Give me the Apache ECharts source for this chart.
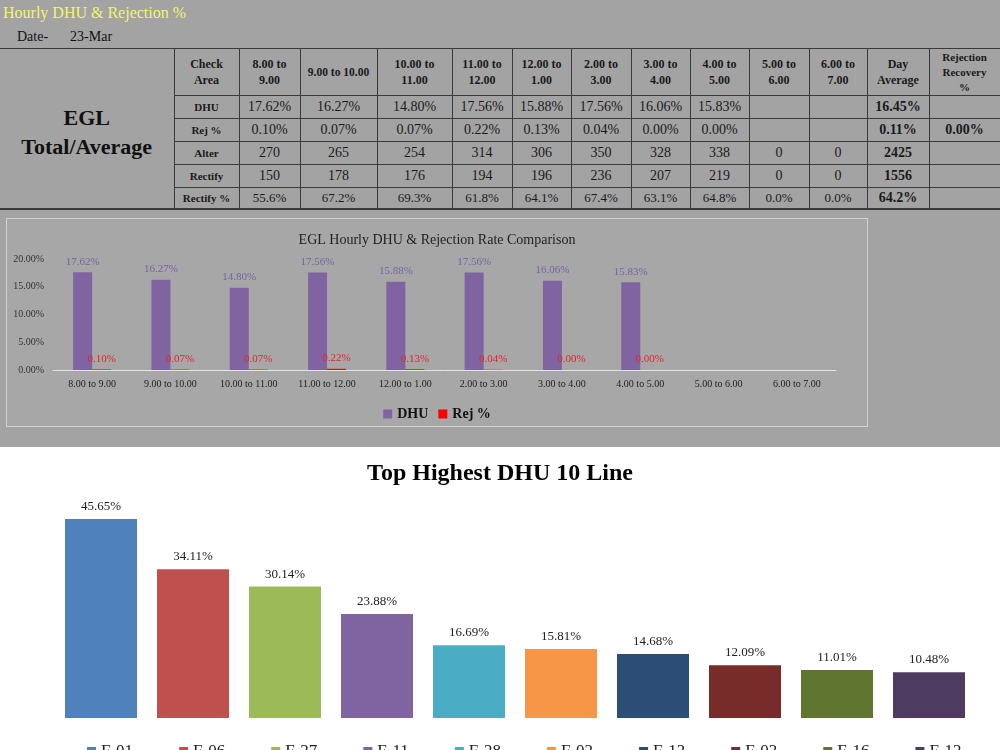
<!DOCTYPE html>
<html>
<head>
<meta charset="utf-8">
<script src="https://cdn.jsdelivr.net/npm/echarts@6/dist/echarts.min.js"></script>
<style>
  body { margin: 0; width: 1000px; height: 750px; overflow: hidden; font-family: 'Liberation Serif', serif; }
  #top { position: absolute; left: 0; top: 0; width: 1000px; height: 447px; background: #a3a3a3; }
  #ttl { position: absolute; left: 3px; top: 4px; font-size: 16px; color: #f4f46a; }
  #date { position: absolute; left: 17px; top: 29px; font-size: 14px; color: #111; }
  #date span { margin-left: 22px; }
  #tbl { position: absolute; left: 0; top: 48px; border-collapse: collapse; table-layout: fixed; width: 1000px; color: #1a1a1a; }
  #tbl td { border: 1px solid #3a3a3a; text-align: center; padding: 0; font-size: 14px; height: 22px; }
  #tbl tr.head td { font-size: 12px; font-weight: bold; line-height: 16px; height: 46px; }
  #tbl tr.last td { border-bottom: 2px solid #3a3a3a; font-size: 13px; height: 20px; }
  #tbl tr td.lab { font-size: 11px; font-weight: bold; }
  #tbl tr td.avg { font-weight: bold; font-size: 14px; }
  #tbl tr.head td.big { font-size: 22px; font-weight: 700; color: #111; line-height: 29px; border-left: none; border-bottom: 2px solid #3a3a3a; padding-top: 6px; }
  #c1 { position: absolute; left: 6px; top: 218px; width: 860px; height: 207px; border: 1px solid #d2d2d2; background: #a7a7a7; }
  #c2 { position: absolute; left: 0; top: 447px; width: 1000px; height: 303px; background: #fff; }
</style>
</head>
<body>
<div id="top">
  <div id="ttl">Hourly DHU &amp; Rejection %</div>
  <div id="date">Date-<span>23-Mar</span></div>
  <table id="tbl"></table>
  <div id="c1"></div>
</div>
<div id="c2"></div>
<script>
// hourly table / chart data
var hours = ['8.00 to 9.00', '9.00 to 10.00', '10.00 to 11.00', '11.00 to 12.00', '12.00 to 1.00',
             '2.00 to 3.00', '3.00 to 4.00', '4.00 to 5.00', '5.00 to 6.00', '6.00 to 7.00'];
var tableHeads = ['8.00 to<br>9.00', '9.00 to 10.00', '10.00 to<br>11.00', '11.00 to<br>12.00', '12.00 to<br>1.00',
                  '2.00 to<br>3.00', '3.00 to<br>4.00', '4.00 to<br>5.00', '5.00 to<br>6.00', '6.00 to<br>7.00'];
var dhu = [17.62, 16.27, 14.80, 17.56, 15.88, 17.56, 16.06, 15.83, null, null];
var rej = [0.10, 0.07, 0.07, 0.22, 0.13, 0.04, 0.00, 0.00, null, null];
var alter = [270, 265, 254, 314, 306, 350, 328, 338, 0, 0];
var rectify = [150, 178, 176, 194, 196, 236, 207, 219, 0, 0];
var rectifyPct = [55.6, 67.2, 69.3, 61.8, 64.1, 67.4, 63.1, 64.8, 0.0, 0.0];
var dayAvg = ['16.45%', '0.11%', '2425', '1556', '64.2%'];
var recovery = ['', '0.00%', '', '', ''];

// top 10 lines
var lines = ['F-01', 'F-06', 'F-27', 'F-11', 'F-28', 'F-02', 'F-13', 'F-03', 'F-16', 'F-12'];
var lineDhu = [45.65, 34.11, 30.14, 23.88, 16.69, 15.81, 14.68, 12.09, 11.01, 10.48];
var lineColors = ['#4f81bd', '#c0504d', '#9bbb59', '#8064a2', '#4bacc6', '#f79646', '#2c4d75', '#772c2a', '#5f7530', '#4d3b62'];

// ---- table ----
var widths = [174, 65, 61, 77, 75, 60, 59, 60, 59, 59, 60, 58, 62, 71];
var html = '<colgroup>';
widths.forEach(function (w) { html += '<col style="width:' + w + 'px">'; });
html += '</colgroup><tbody><tr class="head"><td class="big" rowspan="6">EGL<br>Total/Average</td><td>Check<br>Area</td>';
tableHeads.forEach(function (h) { html += '<td' + (h.indexOf('<br>') < 0 ? ' style="white-space:nowrap;font-size:11.5px"' : '') + '>' + h + '</td>'; });
html += '<td>Day<br>Average</td><td style="font-size:11px;line-height:15px">Rejection<br>Recovery<br>%</td></tr>';
var rows = [
  ['DHU', dhu.map(function (v) { return v == null ? '' : v.toFixed(2) + '%'; })],
  ['Rej %', rej.map(function (v) { return v == null ? '' : v.toFixed(2) + '%'; })],
  ['Alter', alter.map(String)],
  ['Rectify', rectify.map(String)],
  ['Rectify %', rectifyPct.map(function (v) { return v.toFixed(1) + '%'; })]
];
rows.forEach(function (r, i) {
  html += '<tr' + (i === 4 ? ' class="last"' : '') + '><td class="lab">' + r[0] + '</td>';
  r[1].forEach(function (c) { html += '<td>' + c + '</td>'; });
  html += '<td class="avg">' + dayAvg[i] + '</td><td class="avg">' + recovery[i] + '</td></tr>';
});
html += '</tbody>';
document.getElementById('tbl').innerHTML = html;

var serif = 'Liberation Serif';

// ---- hourly chart ----
var chart1 = echarts.init(document.getElementById('c1'));
chart1.setOption({
  animation: false,
  textStyle: { fontFamily: serif },
  title: {
    text: 'EGL Hourly DHU & Rejection Rate Comparison',
    left: 'center', top: 9,
    textStyle: { fontFamily: serif, fontSize: 14, fontWeight: 'normal', color: '#222' }
  },
  legend: {
    top: 183, left: 'center', itemWidth: 9, itemHeight: 9, itemGap: 10,
    icon: 'rect',
    textStyle: { fontFamily: serif, fontSize: 14, fontWeight: 'bold', color: '#111' }
  },
  grid: { left: 46, top: 40, width: 783, height: 111 },
  xAxis: {
    type: 'category', data: hours,
    axisLine: { lineStyle: { color: '#e4e4e4' } },
    axisTick: { show: false },
    axisLabel: { fontFamily: serif, fontSize: 10, color: '#222', margin: 9, interval: 0 }
  },
  yAxis: {
    type: 'value', min: 0, max: 20, interval: 5,
    splitLine: { show: false },
    axisLabel: { fontFamily: serif, fontSize: 10, color: '#333', margin: 9,
      formatter: function (v) { return v.toFixed(2) + '%'; } }
  },
  series: [
    {
      name: 'DHU', type: 'bar', data: dhu, barWidth: 19, barGap: '0%',
      itemStyle: { color: '#8064a2' },
      label: { show: true, position: 'top', distance: 5, fontFamily: serif, fontSize: 11, color: '#7b5fa6',
        formatter: function (p) { return p.value.toFixed(2) + '%'; } }
    },
    {
      name: 'Rej %', type: 'bar', data: rej, barWidth: 19,
      itemStyle: { color: '#ff0000' },
      label: { show: true, position: 'top', distance: 5, fontFamily: serif, fontSize: 11, color: '#e8222a',
        formatter: function (p) { return p.value.toFixed(2) + '%'; } }
    }
  ]
});

// ---- top 10 line chart ----
var chart2 = echarts.init(document.getElementById('c2'));
var series2 = lines.map(function (name, i) {
  return {
    name: name, type: 'bar', stack: 'all', barWidth: 72,
    data: lineDhu.map(function (v, j) { return j === i ? v : '-'; }),
    itemStyle: { color: lineColors[i] },
    label: { show: true, position: 'top', distance: 6, fontFamily: serif, fontSize: 13, color: '#222',
      formatter: function (p) { return p.value.toFixed(2) + '%'; } }
  };
});
chart2.setOption({
  animation: false,
  textStyle: { fontFamily: serif },
  title: {
    text: 'Top Highest DHU 10 Line',
    left: 'center', top: 10,
    textStyle: { fontFamily: serif, fontSize: 24, fontWeight: 'bold', color: '#000' }
  },
  legend: {
    top: 291, left: 82, itemWidth: 9, itemHeight: 9, itemGap: 46,
    icon: 'rect',
    textStyle: { fontFamily: serif, fontSize: 17, color: '#222' }
  },
  grid: { left: 55, right: 25, top: 53, bottom: 32 },
  xAxis: { type: 'category', data: lines, show: false },
  yAxis: { type: 'value', min: 0, max: 50, show: false },
  series: series2
});
</script>
</body>
</html>
